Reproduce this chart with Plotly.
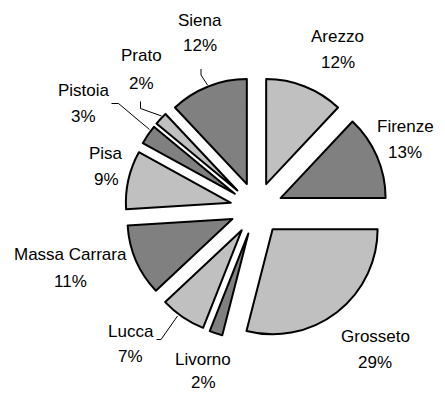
import plotly.graph_objects as go

# Share of each province (percent), clockwise from 12 o'clock
provinces = ["Arezzo", "Firenze", "Grosseto", "Livorno", "Lucca",
             "Massa Carrara", "Pisa", "Pistoia", "Prato", "Siena"]
shares = [12, 13, 29, 2, 7, 11, 9, 3, 2, 12]

LIGHT = "#C0C0C0"
DARK = "#808080"
slice_colors = [LIGHT if i % 2 == 0 else DARK for i in range(len(provinces))]

W, H = 445, 394


def px(x):
    return x / W


def py(y):
    return 1 - y / H


# Label anchor: x centre, y of the name line, y of the percent line (pixels)
label_pos = {
    "Arezzo": (337.5, 36.5, 62.5),
    "Firenze": (405, 126.5, 152.5),
    "Grosseto": (375, 336, 362.5),
    "Livorno": (203, 359, 382),
    "Lucca": (130.5, 331, 356),
    "Massa Carrara": (70.5, 254, 281),
    "Pisa": (106, 153, 179),
    "Pistoia": (83.5, 90.5, 116),
    "Prato": (141, 55, 83),
    "Siena": (200, 20, 45.5),
}

# Elbow leader lines for the labels that sit away from their slice
leaders = [
    [(156.5, 339.5), (161, 339.5), (177.5, 316)],      # Lucca
    [(111.5, 103.5), (118.5, 103.5), (149.5, 129.5)],  # Pistoia
    [(140.5, 101.5), (140.5, 108.5), (161.5, 116)],    # Prato
    [(201, 69), (201, 75), (207.5, 85)],               # Siena
]

cx, cy, half = 256.5, 208.5, 131.25

fig = go.Figure(go.Pie(
    labels=provinces,
    values=shares,
    sort=False,
    direction="clockwise",
    rotation=0,
    pull=[0.25] * len(provinces),
    marker=dict(colors=slice_colors, line=dict(color="black", width=2)),
    textinfo="none",
    hoverinfo="label+percent",
    showlegend=False,
    domain=dict(x=[px(cx - half), px(cx + half)],
                y=[py(cy + half), py(cy - half)]),
))

font = dict(family="Liberation Sans Narrow, Arial Narrow, Liberation Sans, Arial, sans-serif",
            size=17, color="black")

for name, share in zip(provinces, shares):
    x, y1, y2 = label_pos[name]
    for text, y in ((name, y1), (f"{share}%", y2)):
        fig.add_annotation(
            x=px(x), y=py(y), xref="paper", yref="paper",
            text=text, showarrow=False, borderpad=0,
            xanchor="center", yanchor="middle", font=font,
        )

for pts in leaders:
    path = "M " + " L ".join(f"{px(x)},{py(y)}" for x, y in pts)
    fig.add_shape(type="path", path=path, xref="paper", yref="paper",
                  line=dict(color="black", width=1))

fig.update_layout(
    width=W, height=H,
    margin=dict(l=0, r=0, t=0, b=0),
    paper_bgcolor="white",
    plot_bgcolor="white",
)

fig.write_html("out.html")
